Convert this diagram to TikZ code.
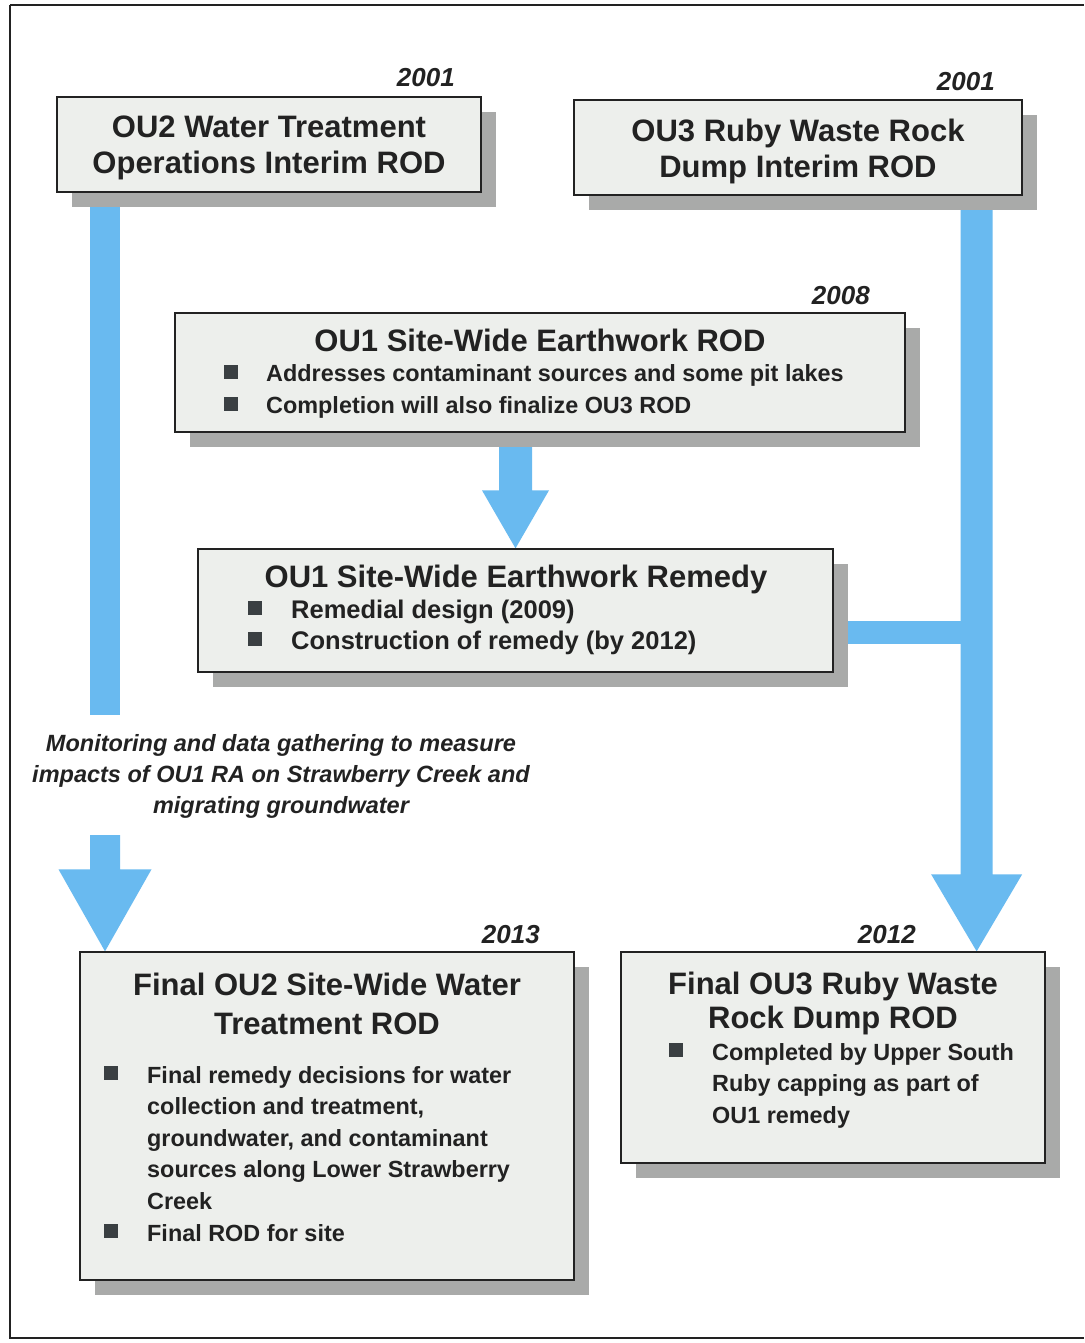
\documentclass[tikz,border=0pt]{standalone}
\usepackage{fontspec}
\setmainfont{Liberation Sans}
\usetikzlibrary{calc,shadows}
\pgfdeclarelayer{background}
\pgfsetlayers{background,main}
\definecolor{boxfill}{HTML}{EDEFEC}
\definecolor{shadowgray}{HTML}{A9AAA9}
\definecolor{flowblue}{HTML}{69BAF0}
\definecolor{inkgray}{HTML}{222222}
\definecolor{bulletgray}{HTML}{3A3F42}
\newcommand{\blockarrow}[5]{%
  \fill[flowblue] let \p1=(#1), \p2=(#2) in
    (\x1-#3pt,\y1) -- (\x1+#3pt,\y1) -- (\x1+#3pt,\y2+#5pt) -- (\x1+#4pt,\y2+#5pt)
    -- (\x1,\y2) -- (\x1-#4pt,\y2+#5pt) -- (\x1-#3pt,\y2+#5pt) -- cycle;}
\begin{document}
\begin{tikzpicture}[x=1pt,y=-1pt,
  box/.style={draw=inkgray, line width=1.3pt, fill=boxfill, inner sep=0pt,
    general shadow={fill=shadowgray, shadow xshift=15pt, shadow yshift=-15pt}},
  ttl/.style={font=\fontsize{31}{37}\selectfont\bfseries, text=inkgray, inner sep=0pt, align=center},
  btxt/.style={font=\fontsize{23.4}{31.5}\selectfont\bfseries, text=inkgray, inner sep=0pt, align=left, anchor=base west},
  btxtb/.style={font=\fontsize{25.5}{31}\selectfont\bfseries, text=inkgray, inner sep=0pt, align=left, anchor=base west},
  year/.style={font=\fontsize{26}{30}\selectfont\bfseries\itshape, text=inkgray, inner sep=0pt, anchor=base east},
  note/.style={font=\fontsize{23.5}{31}\selectfont\bfseries\itshape, text=inkgray, inner sep=0pt, align=center, anchor=base},
  bsq/.style={fill=bulletgray, minimum size=14pt, inner sep=0pt},
  bar/.style={draw=flowblue}
]
\useasboundingbox (0,0) rectangle (1084,1343);
\begin{pgfonlayer}{background}
\fill[white] (0,0) rectangle (1084,1343);
\end{pgfonlayer}
\draw[inkgray, line width=1.2pt] (10,5) -- (1084,5);
\draw[inkgray, line width=1.2pt] (10,5) -- (10,1338) -- (1084,1338);

% boxes
\path
  node[box, minimum width=424pt, minimum height=95pt] (b1) at (269,144.5) {}
  node[box, minimum width=448pt, minimum height=95pt] (b2) at (798,147.5) {}
  node[box, minimum width=730pt, minimum height=119pt] (b3) at (540,372.5) {}
  node[box, minimum width=635pt, minimum height=123pt] (b4) at (515.5,610.5) {}
  node[box, minimum width=494pt, minimum height=328pt] (b5) at (327,1116) {}
  node[box, minimum width=424pt, minimum height=211pt] (b6) at (833,1057.5) {};

% flow coordinates
\coordinate (m1) at (105,715);
\coordinate (m2) at (105,835);
\coordinate (r1) at ($(b2.south east)+(-46,0)$);
\coordinate (h1) at ($(b4.east)+(0,21.5)$);

\begin{pgfonlayer}{background}
\draw[bar, line width=30pt] (b1.south -| m1) -- (m1);
\blockarrow{m2}{m2 |- b5.north}{15}{46.5}{82}
\blockarrow{b4.north |- b3.south}{b4.north}{16.5}{33.5}{58}
\blockarrow{r1}{r1 |- b6.north}{16}{45.5}{77}
\draw[bar, line width=23pt] (h1) -- (h1 -| r1);
\end{pgfonlayer}

% years
\node[year] (y1) at (455,87) {2001};
\node[year] (y2) at (995,91) {2001};
\node[year] (y3) at (870,304) {2008};
\node[year] (y4) at (540,943) {2013};
\node[year] (y5) at (916,943) {2012};

% titles
\node[ttl, anchor=base] (t1a) at (269,138) {OU2 Water Treatment};
\node[ttl, anchor=base] (t1b) at (269,174) {Operations Interim ROD};
\node[ttl, anchor=base] (t2a) at (798,142) {OU3 Ruby Waste Rock};
\node[ttl, anchor=base] (t2b) at (798,178) {Dump Interim ROD};
\node[ttl, anchor=base] (t3) at (540,351) {OU1 Site-Wide Earthwork ROD};
\node[ttl, anchor=base] (t4) at (516,587) {OU1 Site-Wide Earthwork Remedy};
\node[ttl, anchor=base] (t5a) at (327,995) {Final OU2 Site-Wide Water};
\node[ttl, anchor=base] (t5b) at (327,1034) {Treatment ROD};
\node[ttl, anchor=base] (t6a) at (833,994) {Final OU3 Ruby Waste};
\node[ttl, anchor=base] (t6b) at (833,1028) {Rock Dump ROD};

% bullets box 3
\node[bsq] (q3a) at (231,372) {};
\node[bsq] (q3b) at (231,404) {};
\node[btxt] (s3a) at (266,381) {Addresses contaminant sources and some pit lakes};
\node[btxt] (s3b) at (266,413) {Completion will also finalize OU3 ROD};
% bullets box 4
\node[bsq] (q4a) at (255,608) {};
\node[bsq] (q4b) at (255,639) {};
\node[btxtb] (s4a) at (291,618) {Remedial design (2009)};
\node[btxtb] (s4b) at (291,649) {Construction of remedy (by 2012)};
% bullets box 5 (base anchor = last line's baseline)
\node[bsq] (q5a) at (111,1073) {};
\node[bsq] (q5b) at (111,1231) {};
\node[btxt] (s5a) at (147,1209) {Final remedy decisions for water\\collection and treatment,\\groundwater, and contaminant\\sources along Lower Strawberry\\Creek};
\node[btxt] (s5b) at (147,1241) {Final ROD for site};
% bullets box 6
\node[bsq] (q6a) at (676,1050) {};
\node[btxt] (s6a) at (712,1123) {Completed by Upper South\\Ruby capping as part of\\OU1 remedy};

% note
\node[note] (n1) at (281,813) {Monitoring and data gathering to measure\\impacts of OU1 RA on Strawberry Creek and\\migrating groundwater};
\end{tikzpicture}
\end{document}
